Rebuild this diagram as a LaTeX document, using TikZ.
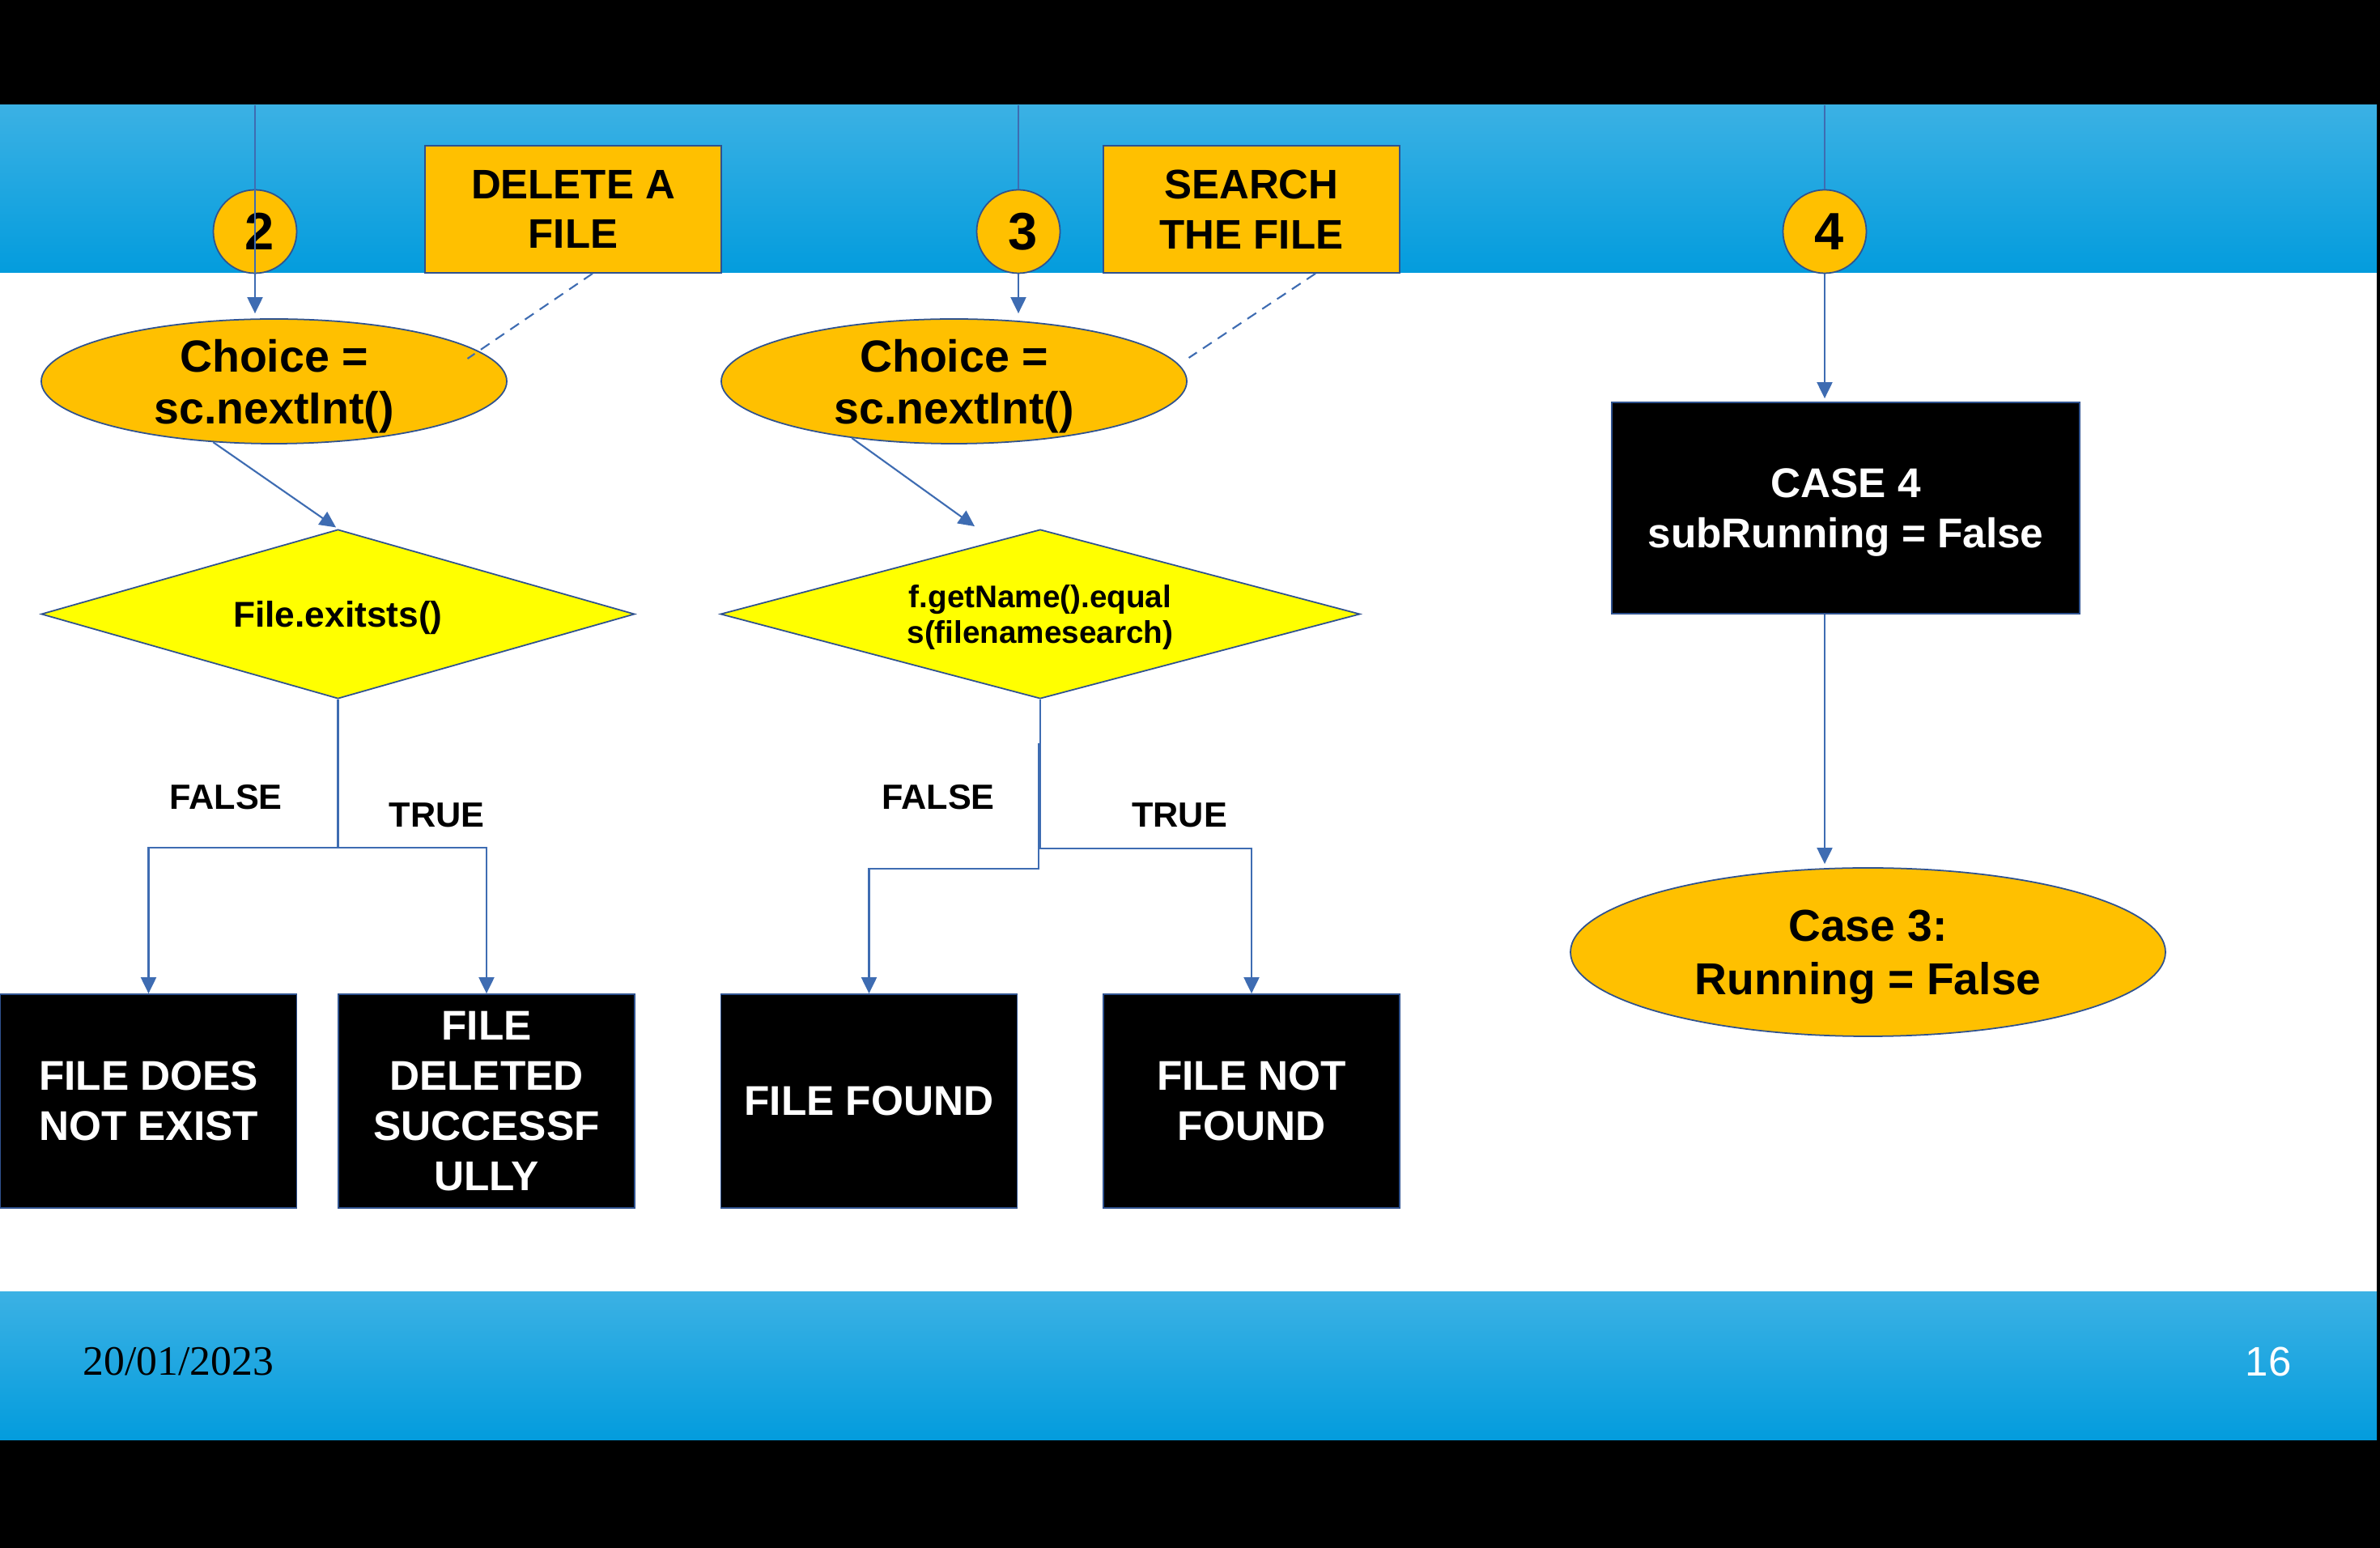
\documentclass[tikz,border=0pt]{standalone}
\usepackage{fontspec}
\setmainfont{Liberation Sans}
\newfontfamily\datefont{Liberation Serif}
\usetikzlibrary{shapes.geometric,arrows.meta,calc}
\definecolor{orangey}{HTML}{FFC000}
\definecolor{diayel}{HTML}{FFFF00}
\definecolor{conblue}{RGB}{62,108,178}
\definecolor{edgeblue}{RGB}{47,82,143}
\definecolor{bandtop}{HTML}{3BB1E4}
\definecolor{bandbot}{HTML}{039CDD}
\tikzset{
 conn/.style={draw=conblue, line width=0.6pt},
 arr/.style={conn, -{Triangle[length=0.2cm,width=0.19cm]}},
 dashconn/.style={conn, dash pattern=on 0.13cm off 0.09cm},
 numnode/.style={circle, fill=orangey, draw=edgeblue, line width=0.5pt, minimum size=1.03cm, inner sep=0pt, font=\fontsize{18.5pt}{20pt}\selectfont\bfseries},
 titlebox/.style={rectangle, fill=orangey, draw=edgeblue, line width=0.5pt, minimum width=3.66cm, minimum height=1.57cm, inner sep=0pt, align=center, font=\fontsize{14.5pt}{17.6pt}\selectfont\bfseries},
 choiceell/.style={ellipse, fill=orangey, draw=edgeblue, line width=0.5pt, minimum width=5.75cm, minimum height=1.54cm, inner sep=0pt, align=center, text depth=0pt, font=\fontsize{15.8pt}{18.2pt}\selectfont\bfseries},
 decision/.style={diamond, fill=diayel, draw=edgeblue, line width=0.5pt, inner sep=0pt, aspect=3.5, align=center, text depth=0pt},
 outbox/.style={rectangle, fill=black, draw=edgeblue, line width=0.5pt, minimum width=3.66cm, minimum height=2.64cm, inner sep=0pt, align=center, text=white, font=\fontsize{14.6pt}{17.6pt}\selectfont\bfseries},
 branchlbl/.style={inner sep=0pt, font=\fontsize{12.3pt}{14pt}\selectfont\bfseries},
}
\begin{document}
\begin{tikzpicture}[x=1cm,y=-1cm]
\useasboundingbox (0,0) rectangle (29.4,19.12);
% background
\fill[black] (0,0) rectangle (29.4,19.12);
\shade[top color=bandtop, bottom color=bandbot] (0,1.30) rectangle (29.36,3.37);
\fill[white] (0,3.37) rectangle (29.36,15.96);
\shade[top color=bandtop, bottom color=bandbot] (0,15.96) rectangle (29.36,17.79);

\coordinate (t2) at (3.15,1.30);
\coordinate (t3) at (12.58,1.30);
\coordinate (t4) at (22.54,1.30);

% column 2
\node[numnode] (c2) at (3.15,2.86) {\hspace*{0.12cm}2};
\node[titlebox] (del) at (7.08,2.585) {DELETE A\\FILE};
\node[choiceell] (e2) at (3.385,4.71) {Choice =\\sc.nextInt()};
\node[decision, minimum width=7.33cm, minimum height=2.09cm, font=\fontsize{12.6pt}{14pt}\selectfont\bfseries] (d2) at (4.175,7.585) {File.exitsts()};
\node[outbox] (f1) at (1.835,13.6) {FILE DOES\\NOT EXIST};
\node[outbox] (f2) at (6.01,13.6) {FILE\\DELETED\\SUCCESSF\\ULLY};

% column 3
\node[numnode] (c3) at (12.58,2.86) {\hspace*{0.12cm}3};
\node[titlebox] (srch) at (15.46,2.585) {SEARCH\\THE FILE};
\node[choiceell] (e3) at (11.785,4.71) {Choice =\\sc.nextInt()};
\node[decision, minimum width=7.9cm, minimum height=2.09cm, font=\fontsize{11pt}{12.8pt}\selectfont\bfseries] (d3) at (12.85,7.585) {f.getName().equal\\s(filenamesearch)};
\node[outbox] (f3) at (10.735,13.6) {FILE FOUND};
\node[outbox] (f4) at (15.46,13.6) {FILE NOT\\FOUND};

% column 4
\node[numnode] (c4) at (22.54,2.86) {\hspace*{0.12cm}4};
\node[outbox, minimum width=5.78cm, minimum height=2.61cm, text depth=-0.03cm] (case4) at (22.80,6.275) {CASE 4\\subRunning = False};
\node[choiceell, minimum width=7.35cm, minimum height=2.08cm, text depth=-0.05cm, font=\fontsize{15.7pt}{18.8pt}\selectfont\bfseries] (run) at (23.075,11.76) {Case 3:\\Running = False};

% connectors
\draw[arr, shorten >=0.06cm] (t2) -- (t2 |- e2.north);
\draw[conn] (t3) -- (c3.north);
\draw[arr, shorten >=0.06cm] (c3.south) -- (c3 |- e3.north);
\draw[conn] (t4) -- (c4.north);
\draw[arr, shorten >=0.04cm] (c4.south) -- (c4 |- case4.north);
\draw[arr, shorten >=0.04cm] (c4 |- case4.south) -- (c4 |- run.north);

\draw[dashconn] ($(del.south)+(0.24,0)$) -- ($(e2.center)+(2.39,-0.28)$);
\draw[dashconn] ($(srch.south)+(0.79,0)$) -- ($(e3.center)+(2.9,-0.29)$);

\draw[arr, shorten >=0.03cm] (e2.225) -- (d2.north);
\draw[arr] (e3.209) -- ($(d3.north)+(-0.81,-0.03)$);

\draw[arr] (d2.south) -- ++(0,1.83) -| (f1.north);
\draw[arr] (d2.south) -- ++(0,1.83) -| (f2.north);
\draw[arr] (d3.south) -- ++(0,1.84) -| (f4.north);
\draw[arr] ($(d3.south)+(-0.02,0.54)$) -- ++(0,1.55) -| (f3.north);

\node[branchlbl] (fl1) at (2.79,9.845) {FALSE};
\node[branchlbl] (tr1) at (5.395,10.065) {TRUE};
\node[branchlbl] (fl2) at (11.59,9.845) {FALSE};
\node[branchlbl] (tr2) at (14.57,10.065) {TRUE};

% footer
\node[inner sep=0pt, font=\datefont\fontsize{14.7pt}{17pt}\selectfont] (date) at (2.205,16.82) {20/01/2023};
\node[inner sep=0pt, text=white, font=\fontsize{14.5pt}{17pt}\selectfont] (pg) at (28.02,16.82) {16};
\end{tikzpicture}
\end{document}
